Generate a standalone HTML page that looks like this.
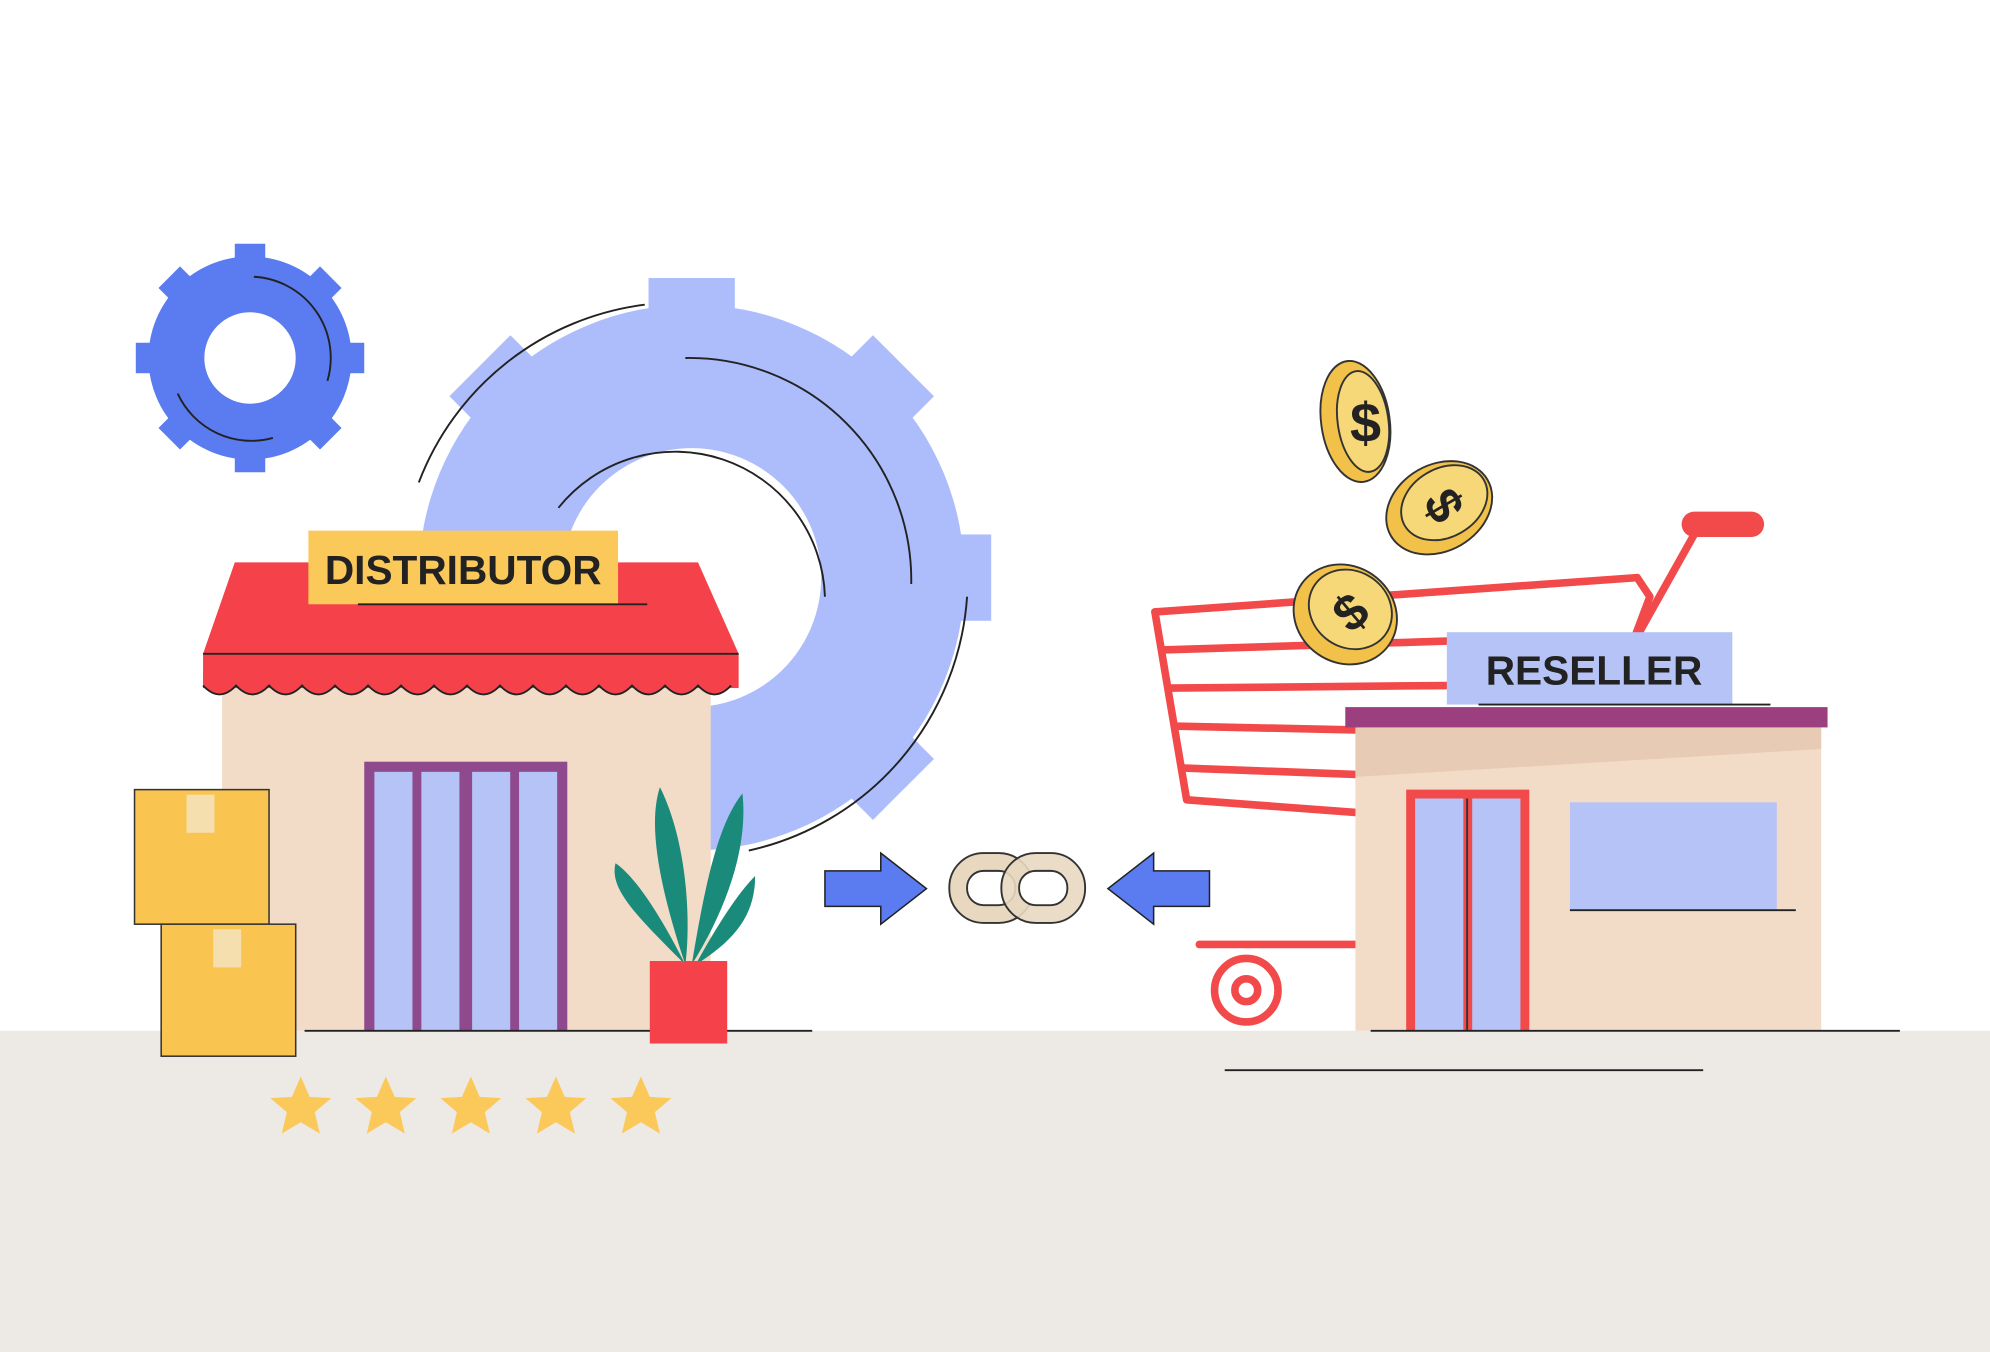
<!DOCTYPE html>
<html><head><meta charset="utf-8"><style>
html,body{margin:0;padding:0;background:#fff;}
svg{display:block;}
text{font-family:"Liberation Sans",sans-serif;font-weight:bold;}
</style></head><body>
<svg width="1990" height="1352" viewBox="0 0 1568 1065" preserveAspectRatio="none" xmlns="http://www.w3.org/2000/svg">
<rect x="0" y="0" width="1568" height="1065" fill="#ffffff"/>
<rect x="0" y="812" width="1568" height="253" fill="#ede9e5"/>

<!-- small gear -->
<g fill="#5b7cf0">
<circle cx="197" cy="282" r="80"/>
<g transform="translate(197,282)">
<rect x="-12" y="-90" width="24" height="20"/><rect x="-12" y="70" width="24" height="20"/>
<rect x="-90" y="-12" width="20" height="24"/><rect x="70" y="-12" width="20" height="24"/>
<rect x="-12" y="-90" width="24" height="20" transform="rotate(45)"/><rect x="-12" y="-90" width="24" height="20" transform="rotate(135)"/>
<rect x="-12" y="-90" width="24" height="20" transform="rotate(225)"/><rect x="-12" y="-90" width="24" height="20" transform="rotate(315)"/>
</g></g>
<circle cx="197" cy="282" r="38" fill="#fff" stroke="#5b7cf0" stroke-width="4"/>
<path d="M200 218 A64 64 0 0 1 258 300" fill="none" stroke="#222" stroke-width="1.5"/>
<path d="M140 310 A64 64 0 0 0 215 345" fill="none" stroke="#222" stroke-width="1.5"/>

<!-- big gear -->
<g fill="#adbdfb">
<circle cx="545" cy="455" r="215"/>
<g transform="translate(545,455)">
<rect x="-34" y="-236" width="68" height="30"/><rect x="-34" y="-236" width="68" height="30" transform="rotate(45)"/>
<rect x="-34" y="-236" width="68" height="30" transform="rotate(90)"/><rect x="-34" y="-236" width="68" height="30" transform="rotate(135)"/>
<rect x="-34" y="-236" width="68" height="30" transform="rotate(-45)"/>
</g></g>
<circle cx="545" cy="455" r="102" fill="#fff"/>
<path d="M330 380 A220 220 0 0 1 508 240" fill="none" stroke="#222" stroke-width="1.5"/>
<path d="M540 282 A175 175 0 0 1 718 460" fill="none" stroke="#222" stroke-width="1.5"/>
<path d="M440 400 A118 118 0 0 1 650 470" fill="none" stroke="#222" stroke-width="1.5"/>
<path d="M762 470 A220 220 0 0 1 590 670" fill="none" stroke="#222" stroke-width="1.5"/>

<!-- distributor building -->
<rect x="175" y="540" width="385" height="272" fill="#f2dcc8"/>
<polygon points="185,443 550,443 582,515 160,515" fill="#f5424a"/>
<rect x="160" y="515" width="422" height="27" fill="#f5424a"/>
<path d="M160 540 q13 14 26 0 q13 14 26 0 q13 14 26 0 q13 14 26 0 q13 14 26 0 q13 14 26 0 q13 14 26 0 q13 14 26 0 q13 14 26 0 q13 14 26 0 q13 14 26 0 q13 14 26 0 q13 14 26 0 q13 14 26 0 q13 14 26 0 q13 14 26 0 l0 -10 L160 530z" fill="#f5424a"/>
<path d="M160 540 q13 14 26 0 q13 14 26 0 q13 14 26 0 q13 14 26 0 q13 14 26 0 q13 14 26 0 q13 14 26 0 q13 14 26 0 q13 14 26 0 q13 14 26 0 q13 14 26 0 q13 14 26 0 q13 14 26 0 q13 14 26 0 q13 14 26 0 q13 14 26 0" fill="none" stroke="#222" stroke-width="1.5"/>
<line x1="160" y1="515" x2="582" y2="515" stroke="#222" stroke-width="1.5"/>
<rect x="287" y="600" width="160" height="212" fill="#8e4a8c"/>
<rect x="295" y="608" width="30" height="204" fill="#b6c3f7"/><rect x="332" y="608" width="30" height="204" fill="#b6c3f7"/>
<rect x="372" y="608" width="30" height="204" fill="#b6c3f7"/><rect x="409" y="608" width="30" height="204" fill="#b6c3f7"/>
<rect x="243" y="418" width="244" height="58" fill="#fbc95a"/>
<text x="365" y="460" font-size="32" text-anchor="middle" fill="#222">DISTRIBUTOR</text>
<line x1="282" y1="476" x2="510" y2="476" stroke="#222" stroke-width="1.5"/>
<line x1="240" y1="812" x2="640" y2="812" stroke="#222" stroke-width="1.5"/>

<!-- boxes -->
<rect x="106" y="622" width="106" height="106" fill="#f9c44f" stroke="#333" stroke-width="1.2"/>
<rect x="127" y="728" width="106" height="104" fill="#f9c44f" stroke="#333" stroke-width="1.2"/>
<rect x="147" y="626" width="22" height="30" fill="#f6dfae"/><rect x="168" y="732" width="22" height="30" fill="#f6dfae"/>

<!-- plant -->
<path d="M540 760 C500 720 480 700 485 680 C500 690 520 720 540 760z" fill="#1a8a7a"/>
<path d="M540 760 C520 700 510 650 520 620 C540 660 545 720 540 760z" fill="#1a8a7a"/>
<path d="M545 760 C555 700 565 650 585 625 C590 670 570 720 545 760z" fill="#1a8a7a"/>
<path d="M548 760 C570 720 585 700 595 690 C595 720 580 740 548 760z" fill="#1a8a7a"/>
<rect x="512" y="757" width="61" height="65" fill="#f5424a"/>

<!-- stars -->
<g fill="#fbc95a">
<polygon id="st" points="237,848 244,864 261,865 248,876 252,893 237,884 222,893 226,876 213,865 230,864"/>
<use href="#st" x="67"/><use href="#st" x="134"/><use href="#st" x="201"/><use href="#st" x="268"/>
</g>

<!-- arrows -->
<polygon points="650,686 694,686 694,672 730,700 694,728 694,714 650,714" fill="#5b7cf0" stroke="#222" stroke-width="1.2"/>
<polygon points="953,686 909,686 909,672 873,700 909,728 909,714 953,714" fill="#5b7cf0" stroke="#222" stroke-width="1.2"/>

<!-- chain -->
<rect x="748" y="672" width="66" height="55" rx="27" fill="#e8d8c0" stroke="#333" stroke-width="1.5"/>
<rect x="762" y="686" width="38" height="27" rx="13" fill="#fff" stroke="#333" stroke-width="1.5"/>
<rect x="789" y="672" width="66" height="55" rx="27" fill="#e8d8c0" stroke="#333" stroke-width="1.5" fill-opacity="0.9"/>
<rect x="803" y="686" width="38" height="27" rx="13" fill="#fff" stroke="#333" stroke-width="1.5"/>

<!-- cart -->
<g fill="none" stroke="#f24a4a" stroke-width="6" stroke-linecap="round" stroke-linejoin="round">
<path d="M1340 412 L1285 510"/>
<path d="M910 482 L1290 455 L1300 470 L1285 510"/>
<path d="M910 482 L935 630 L1068 640"/>
<path d="M916 512 L1140 505"/><path d="M922 542 L1140 540"/><path d="M928 572 L1068 575"/><path d="M933 605 L1068 610"/>
<path d="M945 744 L1068 744"/>
</g>
<rect x="1325" y="403" width="65" height="20" rx="10" fill="#f24a4a"/>
<circle cx="982" cy="780" r="25" fill="none" stroke="#f24a4a" stroke-width="6"/>
<circle cx="982" cy="780" r="9" fill="none" stroke="#f24a4a" stroke-width="6"/>

<!-- coins -->
<g stroke="#333" stroke-width="1.5">
<ellipse cx="1068" cy="332" rx="27" ry="48" fill="#f2c14a" transform="rotate(-8 1068 332)"/>
<ellipse cx="1074" cy="332" rx="20" ry="40" fill="#f7d878" transform="rotate(-8 1074 332)"/>
<ellipse cx="1134" cy="400" rx="44" ry="34" fill="#f2c14a" transform="rotate(-30 1134 400)"/>
<ellipse cx="1138" cy="396" rx="36" ry="27" fill="#f7d878" transform="rotate(-30 1138 396)"/>
<ellipse cx="1060" cy="484" rx="42" ry="38" fill="#f2c14a" transform="rotate(35 1060 484)"/>
<ellipse cx="1064" cy="480" rx="34" ry="30" fill="#f7d878" transform="rotate(35 1064 480)"/>
</g>
<text x="1076" y="348" font-size="44" text-anchor="middle" fill="#222">$</text>
<text x="1138" y="412" font-size="40" text-anchor="middle" fill="#222" transform="rotate(60 1138 398)">$</text>
<text x="1064" y="496" font-size="40" text-anchor="middle" fill="#222" transform="rotate(-40 1064 482)">$</text>

<!-- reseller building -->
<rect x="1068" y="573" width="367" height="239" fill="#f2dcc8"/>
<polygon points="1068,573 1435,573 1435,590 1068,612" fill="#e8cbb5"/>
<rect x="1060" y="557" width="380" height="16" fill="#9b3f7f"/>
<rect x="1140" y="498" width="225" height="57" fill="#b6c3f7"/>
<text x="1256" y="539" font-size="32" text-anchor="middle" fill="#222">RESELLER</text>
<line x1="1165" y1="555" x2="1395" y2="555" stroke="#222" stroke-width="1.5"/>
<rect x="1108" y="622" width="97" height="190" fill="#f24a4a"/>
<rect x="1115" y="629" width="38" height="183" fill="#b6c3f7"/><rect x="1160" y="629" width="38" height="183" fill="#b6c3f7"/>
<line x1="1156" y1="629" x2="1156" y2="812" stroke="#333" stroke-width="1.5"/>
<rect x="1237" y="632" width="163" height="85" fill="#b6c3f7"/>
<line x1="1237" y1="717" x2="1415" y2="717" stroke="#222" stroke-width="1.5"/>
<line x1="1080" y1="812" x2="1497" y2="812" stroke="#222" stroke-width="1.5"/>
<line x1="965" y1="843" x2="1342" y2="843" stroke="#222" stroke-width="1.5"/>
</svg>
</body></html>
